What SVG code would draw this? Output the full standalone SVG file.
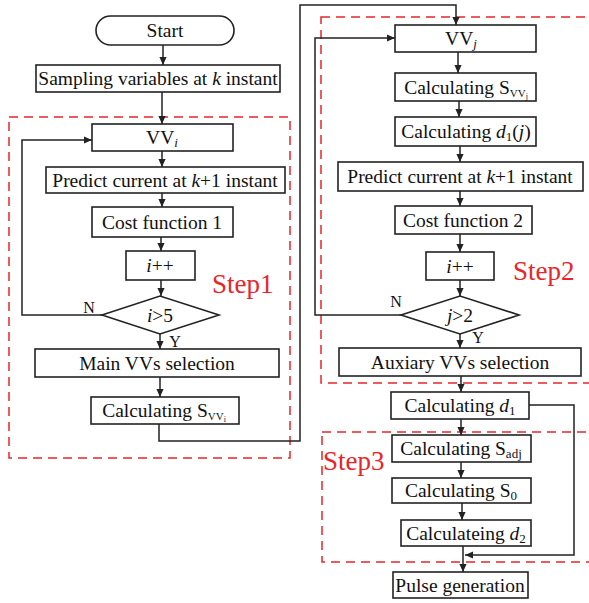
<svg xmlns="http://www.w3.org/2000/svg" width="589" height="603" viewBox="0 0 589 603">
  <style>
    .box { fill: #fff; stroke: #222; stroke-width: 1.6; }
    .t { font-family: 'Liberation Serif', 'Times New Roman', Times, serif; font-size: 19.5px; fill: #111; text-anchor: middle; }
    .lbl { font-family: 'Liberation Serif', 'Times New Roman', Times, serif; font-size: 16px; fill: #111; text-anchor: middle; }
    .step { font-family: 'Liberation Serif', 'Times New Roman', Times, serif; font-size: 27px; fill: #e8262a; }
    .zone { fill: none; stroke: #e8262a; stroke-width: 1.5; stroke-dasharray: 9 6; }
    .wire { fill: none; stroke: #222; stroke-width: 1.5; }
    .arr { marker-end: url(#head); }
  </style>
  <defs>
    <marker id="head" viewBox="0 0 10 10" refX="10" refY="5" markerWidth="8" markerHeight="8" markerUnits="userSpaceOnUse" orient="auto">
      <path d="M0,0.5 L10,5 L0,9.5 Z" fill="#222"/>
    </marker>
  </defs>

  <!-- step regions -->
  <g id="zones">
    <rect class="zone" x="9" y="117" width="281" height="341"/>
    <rect class="zone" x="321" y="17" width="275" height="366"/>
    <rect class="zone" x="322" y="432" width="274" height="130"/>
    <text class="step" x="212" y="293">Step1</text>
    <text class="step" x="513" y="280">Step2</text>
    <text class="step" x="323" y="470">Step3</text>
  </g>

  <!-- connectors -->
  <g id="connectors">
    <path class="wire arr" d="M163,45 V65"/>
    <path class="wire arr" d="M162,92 V124"/>
    <path class="wire arr" d="M162,151 V167"/>
    <path class="wire arr" d="M162,193 V207"/>
    <path class="wire arr" d="M161,237 V251"/>
    <path class="wire arr" d="M161,280 V296"/>
    <path class="wire arr" d="M160,334 V349"/>
    <path class="wire arr" d="M160,377 V397"/>
    <path class="wire arr" d="M102,315 H22 V140 H92"/>
    <path class="wire arr" d="M159,424 V441 H300 V5 H456 V25"/>

    <path class="wire arr" d="M458,52 V73"/>
    <path class="wire arr" d="M459,101 V117"/>
    <path class="wire arr" d="M460,146 V162"/>
    <path class="wire arr" d="M460,191 V206"/>
    <path class="wire arr" d="M460,234 V252"/>
    <path class="wire arr" d="M460,280 V296"/>
    <path class="wire arr" d="M460,334 V348"/>
    <path class="wire arr" d="M461,376 V392"/>
    <path class="wire arr" d="M461,419 V435"/>
    <path class="wire arr" d="M461,462 V478"/>
    <path class="wire arr" d="M462,503 V520"/>
    <path class="wire arr" d="M463,546 V572"/>
    <path class="wire arr" d="M401,315 H315 V38 H395"/>
    <path class="wire arr" d="M529,405 H574 V555 H465"/>

    <text class="lbl" x="89" y="313">N</text>
    <text class="lbl" x="175" y="347">Y</text>
    <text class="lbl" x="396" y="307">N</text>
    <text class="lbl" x="478" y="343">Y</text>
  </g>

  <!-- left column -->
  <g id="start">
    <rect class="box" x="96" y="16" width="138" height="29" rx="14.5"/>
    <text class="t" x="165" y="37">Start</text>
  </g>
  <g id="sampling">
    <rect class="box" x="36" y="65" width="244" height="27"/>
    <text class="t" x="158" y="85">Sampling variables at <tspan font-style="italic">k</tspan> instant</text>
  </g>
  <g id="vv-i">
    <rect class="box" x="92" y="124" width="141" height="27"/>
    <text class="t" x="162" y="144">VV<tspan font-style="italic" font-size="13" dy="3">i</tspan></text>
  </g>
  <g id="predict-1">
    <rect class="box" x="46" y="167" width="239" height="26"/>
    <text class="t" x="165" y="187">Predict current at <tspan font-style="italic">k</tspan>+1 instant</text>
  </g>
  <g id="cost-1">
    <rect class="box" x="92" y="207" width="141" height="30"/>
    <text class="t" x="162" y="229">Cost function 1</text>
  </g>
  <g id="inc-1">
    <rect class="box" x="126" y="251" width="69" height="29"/>
    <text class="t" x="160" y="272"><tspan font-style="italic">i</tspan>++</text>
  </g>
  <g id="check-1">
    <polygon class="box" points="102,315 160,296 219,315 160,334"/>
    <text class="t" x="160" y="322"><tspan font-style="italic">i</tspan>&gt;5</text>
  </g>
  <g id="main-select">
    <rect class="box" x="35" y="349" width="244" height="28"/>
    <text class="t" x="157" y="370">Main VVs selection</text>
  </g>
  <g id="calc-svvi">
    <rect class="box" x="91" y="397" width="148" height="27"/>
    <text class="t" x="164" y="417">Calculating S<tspan font-size="11" dy="3">VV</tspan><tspan font-size="8" dy="2">i</tspan></text>
  </g>

  <!-- right column -->
  <g id="vv-j">
    <rect class="box" x="395" y="25" width="141" height="27"/>
    <text class="t" x="461" y="45">VV<tspan font-style="italic" font-size="13" dy="3">j</tspan></text>
  </g>
  <g id="calc-svvj">
    <rect class="box" x="395" y="73" width="141" height="28"/>
    <text class="t" x="466" y="94">Calculating S<tspan font-size="11" dy="3">VV</tspan><tspan font-size="8" dy="2">j</tspan></text>
  </g>
  <g id="calc-d1j">
    <rect class="box" x="395" y="117" width="141" height="29"/>
    <text class="t" x="466" y="138">Calculating <tspan font-style="italic">d</tspan><tspan font-size="13" dy="3">1</tspan><tspan dy="-3">(</tspan><tspan font-style="italic">j</tspan>)</text>
  </g>
  <g id="predict-2">
    <rect class="box" x="338" y="162" width="245" height="29"/>
    <text class="t" x="460" y="183">Predict current at <tspan font-style="italic">k</tspan>+1 instant</text>
  </g>
  <g id="cost-2">
    <rect class="box" x="395" y="206" width="137" height="28"/>
    <text class="t" x="463" y="227">Cost function 2</text>
  </g>
  <g id="inc-2">
    <rect class="box" x="426" y="252" width="68" height="28"/>
    <text class="t" x="460" y="273"><tspan font-style="italic">i</tspan>++</text>
  </g>
  <g id="check-2">
    <polygon class="box" points="401,315 460,296 519,315 460,334"/>
    <text class="t" x="460" y="322"><tspan font-style="italic">j</tspan>&gt;2</text>
  </g>
  <g id="aux-select">
    <rect class="box" x="339" y="348" width="242" height="28"/>
    <text class="t" x="460" y="369">Auxiary VVs selection</text>
  </g>
  <g id="calc-d1">
    <rect class="box" x="391" y="392" width="138" height="27"/>
    <text class="t" x="460" y="412">Calculating <tspan font-style="italic">d</tspan><tspan font-size="13" dy="3">1</tspan></text>
  </g>
  <g id="calc-sadj">
    <rect class="box" x="392" y="435" width="139" height="27"/>
    <text class="t" x="461" y="455">Calculating S<tspan font-size="13" dy="3">adj</tspan></text>
  </g>
  <g id="calc-s0">
    <rect class="box" x="392" y="478" width="139" height="25"/>
    <text class="t" x="461" y="497">Calculating S<tspan font-size="13" dy="3">0</tspan></text>
  </g>
  <g id="calc-d2">
    <rect class="box" x="401" y="520" width="130" height="26"/>
    <text class="t" x="466" y="540">Calculateing <tspan font-style="italic">d</tspan><tspan font-size="13" dy="3">2</tspan></text>
  </g>
  <g id="pulse">
    <rect class="box" x="393" y="572" width="135" height="26"/>
    <text class="t" x="460" y="592">Pulse generation</text>
  </g>
</svg>
